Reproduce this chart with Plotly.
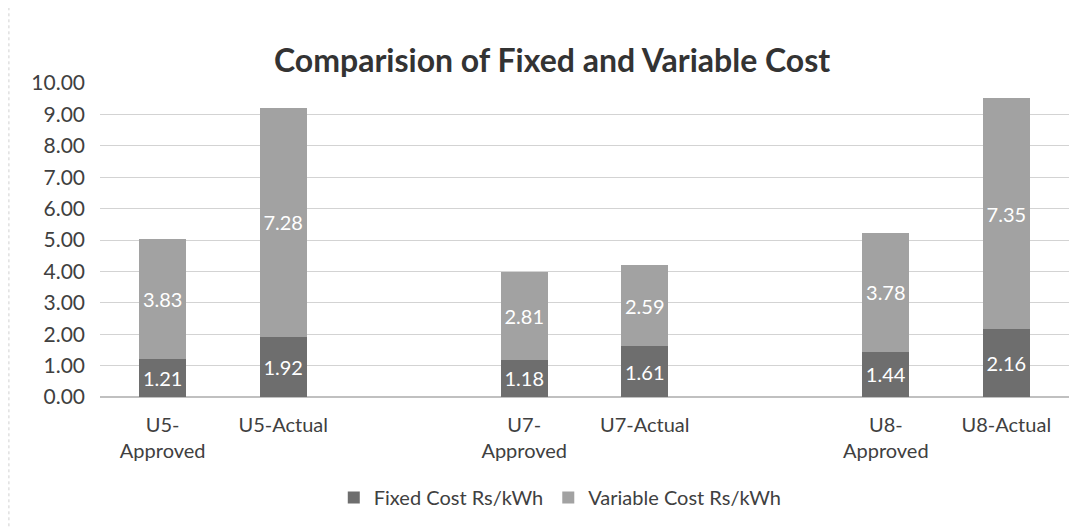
import plotly.graph_objects as go

categories = ["U5-<br>Approved", "U5-Actual", "U7-<br>Approved", "U7-Actual", "U8-<br>Approved", "U8-Actual"]
positions = [0, 1, 3, 4, 6, 7]
fixed_cost = [1.21, 1.92, 1.18, 1.61, 1.44, 2.16]
variable_cost = [3.83, 7.28, 2.81, 2.59, 3.78, 7.35]
y_ticks = [0, 1, 2, 3, 4, 5, 6, 7, 8, 9, 10]

FONT = "Lato, Open Sans, sans-serif"

fig = go.Figure()
fig.add_trace(go.Bar(
    x=positions, y=fixed_cost, name="Fixed Cost Rs/kWh",
    marker=dict(color="#6e6e6e", line=dict(width=0)),
    text=[f"{v:.2f}" for v in fixed_cost], textposition="inside",
    insidetextanchor="middle", constraintext="none",
    textfont=dict(color="white", size=20, family=FONT),
    width=0.39,
))
fig.add_trace(go.Bar(
    x=positions, y=variable_cost, name="Variable Cost Rs/kWh",
    marker=dict(color="#a2a2a2", line=dict(width=0)),
    text=[f"{v:.2f}" for v in variable_cost], textposition="inside",
    insidetextanchor="middle", constraintext="none",
    textfont=dict(color="white", size=20, family=FONT),
    width=0.39,
))

fig.update_layout(
    barmode="stack",
    width=1086, height=528,
    margin=dict(l=92, r=25, t=75, b=139, autoexpand=False),
    paper_bgcolor="white", plot_bgcolor="white",
    font=dict(family=FONT, color="#404040", size=20),
    title=dict(text="<b>Comparision of Fixed and Variable Cost</b>",
               xref="container", x=0.501, xanchor="center",
               yref="container", y=0.9, yanchor="middle",
               font=dict(size=32, color="#333333", family=FONT)),
    xaxis=dict(tickmode="array", tickvals=positions, ticktext=categories,
               range=[-0.52, 7.52], showgrid=False, zeroline=False, showline=False,
               ticks="", ticklabelstandoff=14,
               tickfont=dict(size=20, color="#404040")),
    yaxis=dict(range=[0, 10], tickvals=y_ticks, tickformat=".2f",
               showgrid=True, gridcolor="#d3d3d3", gridwidth=1,
               zeroline=True, zerolinecolor="#c0c0c0", showline=False,
               ticks="", ticklabelstandoff=14,
               tickfont=dict(size=21, color="#404040")),
    legend=dict(orientation="h", x=0.475, xanchor="center", y=-0.32, yanchor="middle",
                font=dict(size=20, color="#404040"), traceorder="normal",
                itemwidth=30),
    showlegend=True,
)

fig.add_shape(type="line", xref="paper", yref="paper", x0=-0.094, x1=-0.094, y0=-0.45, y1=1.25,
              line=dict(color="#d0d0d0", width=1, dash="dot"), layer="below")

fig.write_html("out.html")
